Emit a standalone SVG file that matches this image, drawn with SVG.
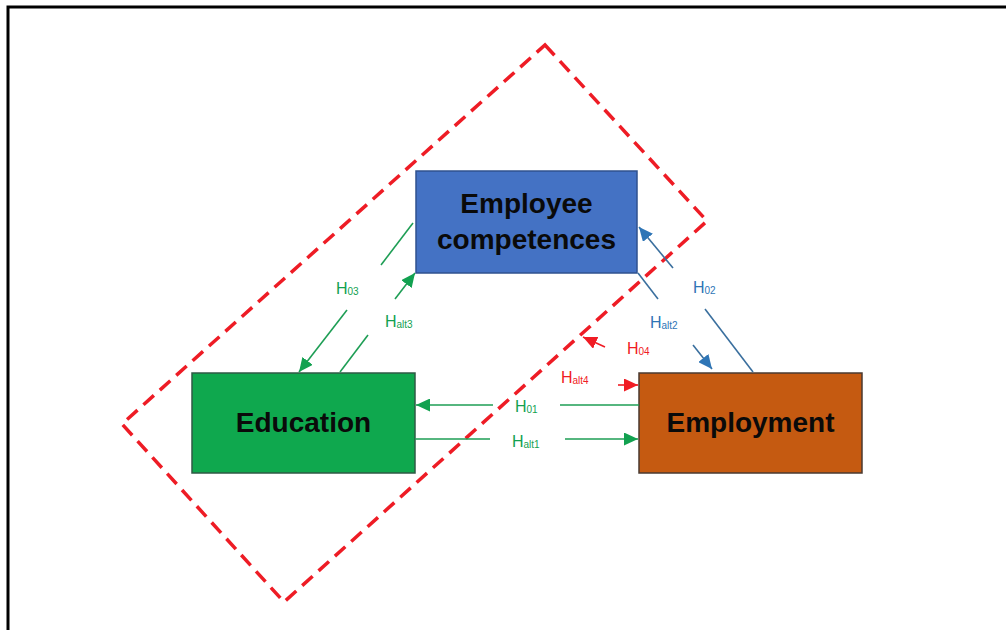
<svg xmlns="http://www.w3.org/2000/svg" width="1006" height="630" viewBox="0 0 1006 630">
<defs>
<style>
.node-label{font-family:"Liberation Sans",Arial,sans-serif;font-weight:bold;font-size:28px;fill:#0a0a0a;text-anchor:middle}
.lbl{font-family:"Liberation Sans",Arial,sans-serif;font-size:16px}
.sub{font-size:10px}
.g{fill:#12A150}
.b{fill:#2E75B6}
.r{fill:#F01C24}
.gl{stroke:#1E9E55;stroke-width:1.6;fill:none}
.bl{stroke:#3A6F9E;stroke-width:1.6;fill:none}
.rl{stroke:#F01C24;stroke-width:1.6;fill:none}
</style>
<marker id="ag" markerUnits="userSpaceOnUse" markerWidth="15" markerHeight="13" refX="14" refY="6.5" orient="auto"><path d="M0,0 L14,6.5 L0,13 z" fill="#12A150"/></marker>
<marker id="ab" markerUnits="userSpaceOnUse" markerWidth="15" markerHeight="13" refX="14" refY="6.5" orient="auto"><path d="M0,0 L14,6.5 L0,13 z" fill="#2E75B6"/></marker>
<marker id="ar" markerUnits="userSpaceOnUse" markerWidth="15" markerHeight="13" refX="14" refY="6.5" orient="auto"><path d="M0,0 L14,6.5 L0,13 z" fill="#F01C24"/></marker>
</defs>
<rect x="0" y="0" width="1006" height="630" fill="#ffffff"/>
<path d="M8,630 V7 H1006" fill="none" stroke="#000" stroke-width="3"/>

<g id="boundary">
<polygon points="545,45 707,221 284,602 122,424" fill="none" stroke="#EE1C25" stroke-width="3.5" stroke-dasharray="14 8"/>
</g>

<g id="node-competences">
<rect x="416" y="171" width="221" height="102" fill="#4472C4" stroke="#2F528F" stroke-width="1.5"/>
<text class="node-label" x="526.5" y="213">Employee</text>
<text class="node-label" x="526.5" y="249">competences</text>
</g>
<g id="node-education">
<rect x="192" y="373" width="223" height="100" fill="#0FA84E" stroke="#2F5A45" stroke-width="1.5"/>
<text class="node-label" x="303.5" y="432">Education</text>
</g>
<g id="node-employment">
<rect x="639" y="373" width="223" height="100" fill="#C55A11" stroke="#4A3A30" stroke-width="1.5"/>
<text class="node-label" x="750.5" y="432">Employment</text>
</g>

<g id="connectors">
<line class="gl" x1="639" y1="405" x2="560" y2="405"/>
<line class="gl" x1="493" y1="405" x2="416" y2="405" marker-end="url(#ag)"/>
<line class="gl" x1="415" y1="439" x2="490" y2="439"/>
<line class="gl" x1="565" y1="439" x2="638" y2="439" marker-end="url(#ag)"/>
<line class="gl" x1="413" y1="223" x2="381" y2="265"/>
<line class="gl" x1="347" y1="310" x2="299" y2="372" marker-end="url(#ag)"/>
<line class="gl" x1="340" y1="372" x2="368" y2="335"/>
<line class="gl" x1="395" y1="299" x2="415" y2="273" marker-end="url(#ag)"/>
<line class="bl" x1="753" y1="372" x2="705" y2="309"/>
<line class="bl" x1="673" y1="268" x2="639" y2="227" marker-end="url(#ab)"/>
<line class="bl" x1="638" y1="273" x2="658" y2="299"/>
<line class="bl" x1="693" y1="345" x2="712" y2="369" marker-end="url(#ab)"/>
<line class="rl" x1="605" y1="347" x2="583" y2="337" marker-end="url(#ar)"/>
<line class="rl" x1="618" y1="385" x2="638" y2="385" marker-end="url(#ar)"/>
</g>

<g id="labels">
<text class="lbl g" x="515" y="412">H<tspan class="sub" dy="1">01</tspan></text>
<text class="lbl g" x="512" y="447">H<tspan class="sub" dy="1">alt1</tspan></text>
<text class="lbl g" x="336" y="294">H<tspan class="sub" dy="1">03</tspan></text>
<text class="lbl g" x="385" y="327">H<tspan class="sub" dy="1">alt3</tspan></text>
<text class="lbl b" x="693" y="293">H<tspan class="sub" dy="1">02</tspan></text>
<text class="lbl b" x="650" y="328">H<tspan class="sub" dy="1">alt2</tspan></text>
<text class="lbl r" x="627" y="354">H<tspan class="sub" dy="1">04</tspan></text>
<text class="lbl r" x="561" y="383">H<tspan class="sub" dy="1">alt4</tspan></text>
</g>
</svg>
